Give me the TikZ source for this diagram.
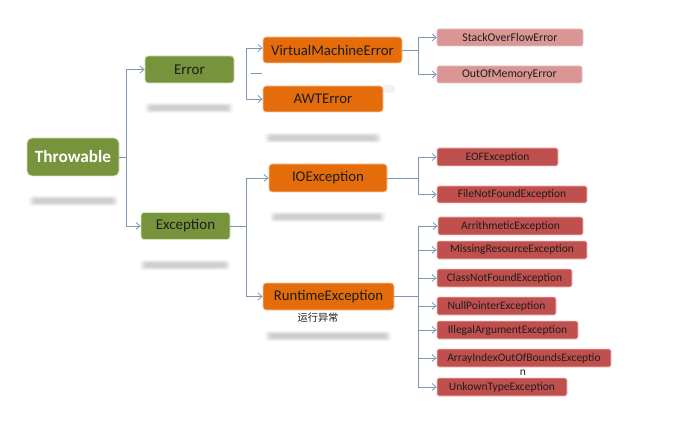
\documentclass[tikz,border=0pt]{standalone}
\usepackage{fontspec}
\setmainfont{Carlito}
\newfontfamily\cjk{Noto Sans CJK SC}
\usetikzlibrary{arrows.meta}
\definecolor{olivebox}{HTML}{77933C}
\definecolor{olivebd}{HTML}{D7E4BD}
\definecolor{orangebox}{HTML}{E46C0A}
\definecolor{orangebd}{HTML}{F9C9A0}
\definecolor{pinkbox}{HTML}{D99694}
\definecolor{redbox}{HTML}{C0504D}
\definecolor{redbd}{HTML}{F2C4C3}
\definecolor{linecol}{HTML}{7F96AE}
\definecolor{txt}{HTML}{1E1E1E}
\begin{document}
\begin{tikzpicture}[x=1pt,y=-1pt,
  base/.style={rounded corners=3pt, inner sep=0pt, align=center, text=txt},
  greenbox/.style={base, fill=olivebox, draw=olivebd, line width=0.8pt, font=\fontsize{15}{17}\selectfont},
  orbox/.style={base, fill=orangebox, draw=orangebd, line width=0.8pt, font=\fontsize{14.8}{17}\selectfont},
  pkbox/.style={base, rounded corners=2pt, fill=pinkbox, draw=pinkbox!60, line width=0.6pt, font=\fontsize{11.8}{13}\selectfont},
  rdbox/.style={base, rounded corners=2pt, fill=redbox, draw=redbd, line width=0.8pt, font=\fontsize{11.5}{13}\selectfont},
  conn/.style={draw=linecol, line width=0.8pt},
  arr/.style={conn, -{Straight Barb[length=4pt,width=7pt]}},
  blur/.style={fill=black, fill opacity=0.05, draw=none, rounded corners=3pt}
]
\useasboundingbox (0,0) rectangle (696,422);

% blurred shadow bars
\foreach \xa/\xb/\yc in {32/115/201, 148/230/108, 143/227/265, 268/378/138, 273/382/217, 268/388/336}{
  \fill[blur] (\xa-3,\yc-5) rectangle (\xb+3,\yc+5);
  \fill[blur] (\xa-1,\yc-4) rectangle (\xb+1,\yc+4);
  \fill[blur] (\xa,\yc-3) rectangle (\xb,\yc+3);
  \fill[blur] (\xa+2,\yc-2) rectangle (\xb-2,\yc+2);
}
\fill[blur] (383,85) rectangle (395,93);

% main nodes
\node[greenbox, rounded corners=5pt, minimum width=92pt, minimum height=38pt, text=white, font=\fontsize{17.2}{19}\selectfont\bfseries] (thr) at (73,157) {Throwable};
\node[greenbox, minimum width=89pt, minimum height=27pt] (err) at (189.5,69.5) {Error};
\node[greenbox, minimum width=89pt, minimum height=27pt] (exc) at (185.5,226) {Exception};

\node[orbox, minimum width=139pt, minimum height=26pt] (vme) at (332.5,50) {VirtualMachineError};
\node[orbox, minimum width=120pt, minimum height=26pt] (awt) at (323,99) {AWTError};
\node[orbox, minimum width=118pt, minimum height=28pt] (ioe) at (328,178) {IOException};
\node[orbox, minimum width=131pt, minimum height=27pt] (rte) at (328.5,296.5) {RuntimeException};
\node[font=\cjk\fontsize{10.2}{11}\selectfont, text=txt, inner sep=0pt] (rtel) at (318,318) {运行异常};

\node[pkbox, minimum width=146pt, minimum height=17pt] (sof) at (510,37.5) {StackOverFlowError};
\node[pkbox, minimum width=145pt, minimum height=17pt] (oom) at (509.5,74.5) {OutOfMemoryError};

\node[rdbox, minimum width=121pt, minimum height=18pt] (eof) at (497.5,157) {EOFException};
\node[rdbox, minimum width=150pt, minimum height=17pt] (fnf) at (512,194.5) {FileNotFoundException};

\node[rdbox, minimum width=145pt, minimum height=18pt] (ari) at (510.5,226) {ArrithmeticException};
\node[rdbox, minimum width=150pt, minimum height=18pt] (mis) at (512,250) {MissingResourceException};
\node[rdbox, minimum width=135pt, minimum height=18pt] (cnf) at (504.5,278) {ClassNotFoundException};
\node[rdbox, minimum width=119pt, minimum height=18pt] (npe) at (496.5,306) {NullPointerException};
\node[rdbox, minimum width=141pt, minimum height=18pt] (iae) at (507.5,330) {IllegalArgumentException};
\node[rdbox, minimum width=174pt, minimum height=18pt] (aio) at (524,358) {ArrayIndexOutOfBoundsExceptio};
\node[font=\fontsize{11.5}{13}\selectfont, text=txt, inner sep=0pt] (aion) at (523,373) {n};
\node[rdbox, minimum width=130pt, minimum height=18pt] (ukt) at (502,387) {UnkownTypeException};

% connectors
\draw[arr] (thr.east) -- ++(7,0) |- (err.west);
\draw[arr] (thr.east) -- ++(7,0) |- (exc.west);

\coordinate (ej) at (246,73);
\coordinate (ed1) at (251,73);
\coordinate (ed2) at (262,73);
\draw[arr] (ej) |- ([yshift=2pt]vme.west);
\draw[arr] (ej) |- (awt.west);
\draw[conn] (ed1) -- (ed2);

\draw[arr] (vme.east) -- (418,50) |- (sof.west);
\draw[arr] (vme.east) -- (418,50) |- (oom.west);

\draw[arr] (exc.east) -- (246,226) |- (ioe.west);
\draw[arr] (exc.east) -- (246,226) |- (rte.west);

\draw[arr] (ioe.east) -- (418,178) |- (eof.west);
\draw[arr] (ioe.east) -- (418,178) |- (fnf.west);

\foreach \n in {ari,mis,cnf,npe,iae,aio,ukt}{
  \draw[arr] (rte.east) -- (418,296.5) |- (\n.west);
}
\end{tikzpicture}
\end{document}
